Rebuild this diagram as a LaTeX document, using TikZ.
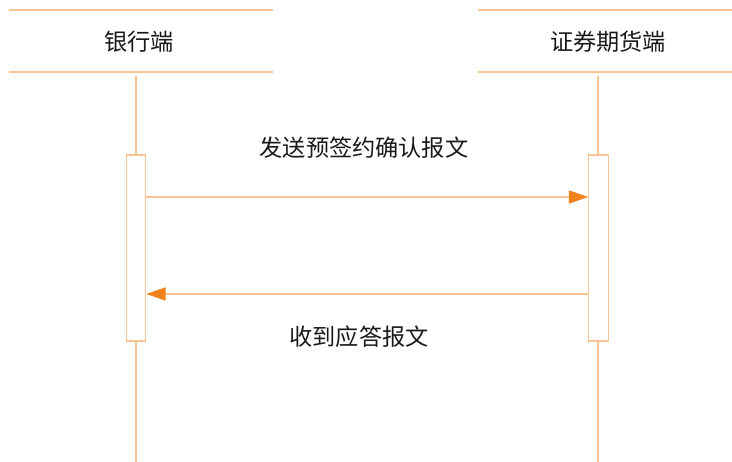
\documentclass[tikz,border=0pt]{standalone}
\usepackage{fontspec}
\setmainfont{Noto Sans CJK SC}
\usepackage{tikz}
\usetikzlibrary{arrows.meta}
\definecolor{lineorange}{HTML}{F9C595}
\definecolor{tiporange}{HTML}{F0821E}

\begin{document}
\begin{tikzpicture}[x=0.02cm, y=-0.02cm]
		\tikzset{
			hline/.style={
				draw=lineorange, line width=0.6pt
			},
			actbox/.style={
				draw=lineorange, fill=white, line width=0.6pt, inner sep=0pt,
				minimum width=0.39cm, minimum height=3.72cm
			},
			msg/.style={
				hline, -{Triangle[length=11pt, width=7.5pt, color=tiporange, fill=tiporange]}
			},
			txt/.style={
				font=\fontsize{13.2}{15}\selectfont, text=black!90
			}
		}
		\useasboundingbox (0,0) rectangle (732,462);
		
		% headers
		\draw [hline] (9,10) -- (273,10);
		\draw [hline] (9,72) -- (273,72);
		\draw [hline] (478,10) -- (732,10);
		\draw [hline] (478,72) -- (732,72);
		\node [txt] (bank) at (139,42) {银行端};
		\node [txt] (broker) at (608,42) {证券期货端};
		
		% lifelines
		\coordinate (banktop) at (136,76);
		\coordinate (bankend) at (136,462);
		\coordinate (brokertop) at (598,76);
		\coordinate (brokerend) at (598,462);
		\draw [hline] (banktop) -- (bankend);
		\draw [hline] (brokertop) -- (brokerend);
		
		\node [actbox] (bankact) at (136,248) {};
		\node [actbox] (brokeract) at (598.5,248) {};
		
		% messages
		\coordinate (m1) at (0,197);
		\coordinate (m2) at (0,294);
		\draw [msg] (bankact.east |- m1) -- (brokeract.west |- m1);
		\draw [msg] (brokeract.west |- m2) -- (bankact.east |- m2);
		\node [txt] (send) at (364,148) {发送预签约确认报文};
		\node [txt] (reply) at (359,337) {收到应答报文};
		\end{tikzpicture}
\end{document}
